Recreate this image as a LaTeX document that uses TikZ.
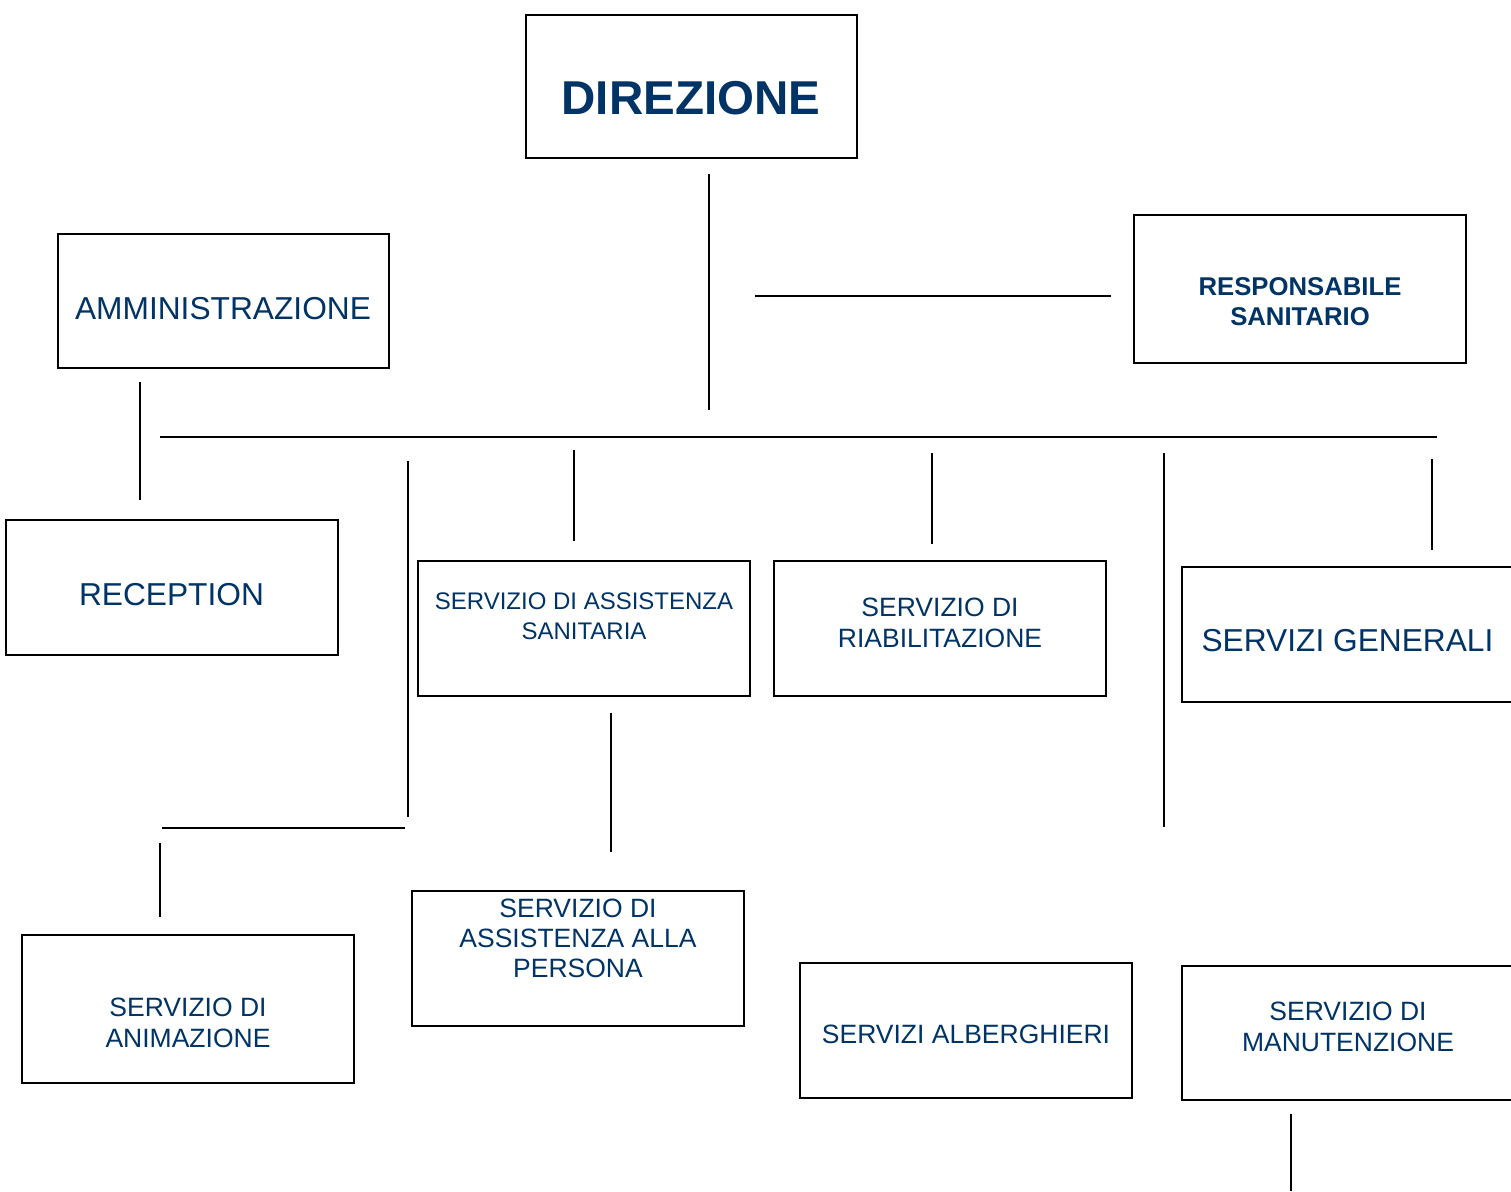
\documentclass[tikz,border=0pt]{standalone}
\usepackage{fontspec}
\setmainfont{Liberation Sans}
\definecolor{navy}{RGB}{0,51,102}
\begin{document}
\begin{tikzpicture}[x=1pt,y=-1pt,
  box/.style={draw=black,line width=2pt,fill=white,inner sep=0pt,outer sep=0pt,minimum width=331pt,minimum height=135pt},
  txt/.style={text=navy,align=center,inner sep=0pt,font=\fontsize{26.5}{31}\selectfont},
  ln/.style={draw=black,line width=2pt}]
\useasboundingbox (0,0) rectangle (1511,1191);
\fill[white] (0,0) rectangle (1511,1191);
\clip (0,0) rectangle (1511,1191);

% boxes
\node[box,minimum height=143pt] (dir) at (691.5,86.5) {};
\node[txt,font=\fontsize{47.5}{50}\selectfont\bfseries] (dirT) at (691,98.5) {DIREZIONE};

\node[box,minimum height=134pt] (amm) at (223.5,301) {};
\node[txt,font=\fontsize{31.7}{36}\selectfont] (ammT) at (223,308.5) {AMMINISTRAZIONE};

\node[box,minimum width=332pt,minimum height=148pt] (resp) at (1300,289) {};
\node[txt,font=\fontsize{25.7}{30.7}\selectfont\bfseries] (respT) at (1300,301.5) {RESPONSABILE\\SANITARIO};

\node[box,minimum width=332pt] (rec) at (172,587.5) {};
\node[txt,font=\fontsize{31.7}{36}\selectfont] (recT) at (171.5,595) {RECEPTION};

\node[box,minimum width=332pt] (sas) at (584,628.5) {};
\node[txt,font=\fontsize{24}{29.3}\selectfont] (sasT) at (584,616.3) {SERVIZIO DI ASSISTENZA\\SANITARIA};

\node[box,minimum width=332pt] (ria) at (940,628.5) {};
\node[txt] (riaT) at (940,622.5) {SERVIZIO DI\\RIABILITAZIONE};

\node[box] (gen) at (1347.5,634.5) {};
\node[txt,font=\fontsize{31.7}{36}\selectfont] (genT) at (1347.5,641) {SERVIZI GENERALI};

\node[box,minimum width=332pt,minimum height=148pt] (ani) at (188,1009) {};
\node[txt] (aniT) at (188,1022.5) {SERVIZIO DI\\ANIMAZIONE};

\node[box,minimum width=332pt] (aap) at (578,958.5) {};
\node[txt,font=\fontsize{26.5}{30}\selectfont] (aapT) at (578,938) {SERVIZIO DI\\ASSISTENZA ALLA\\PERSONA};

\node[box,minimum width=332pt] (alb) at (966,1030.5) {};
\node[txt] (albT) at (966,1034) {SERVIZI ALBERGHIERI};

\node[box,minimum height=134pt] (man) at (1347.5,1032.5) {};
\node[txt] (manT) at (1348,1027) {SERVIZIO DI\\MANUTENZIONE};

% connector end points
\coordinate (c1a) at (709,174);  \coordinate (c1b) at (709,410);
\coordinate (c2a) at (755,296);  \coordinate (c2b) at (1111,296);
\coordinate (c3a) at (160,436.5);  \coordinate (c3b) at (1437,436.5);
\coordinate (c4a) at (140,382);  \coordinate (c4b) at (140,500);
\coordinate (c5a) at (408,461);  \coordinate (c5b) at (408,817);
\coordinate (c6a) at (162,827.5);  \coordinate (c6b) at (405,827.5);
\coordinate (c7a) at (160,843);  \coordinate (c7b) at (160,917);
\coordinate (c8a) at (574,450);  \coordinate (c8b) at (574,541);
\coordinate (c9a) at (932,453);  \coordinate (c9b) at (932,544);
\coordinate (c10a) at (1164,453); \coordinate (c10b) at (1164,827);
\coordinate (c11a) at (1432,459); \coordinate (c11b) at (1432,550);
\coordinate (c12a) at (611,713); \coordinate (c12b) at (611,852);
\coordinate (c13a) at (1291,1114); \coordinate (c13b) at (1291,1191);

\draw[ln] (c1a) -- (c1b);
\draw[ln] (c2a) -- (c2b);
\draw[ln] (c3a) -- (c3b);
\draw[ln] (c4a) -- (c4b);
\draw[ln] (c5a) -- (c5b);
\draw[ln] (c6a) -- (c6b);
\draw[ln] (c7a) -- (c7b);
\draw[ln] (c8a) -- (c8b);
\draw[ln] (c9a) -- (c9b);
\draw[ln] (c10a) -- (c10b);
\draw[ln] (c11a) -- (c11b);
\draw[ln] (c12a) -- (c12b);
\draw[ln] (c13a) -- (c13b);
\end{tikzpicture}
\end{document}
